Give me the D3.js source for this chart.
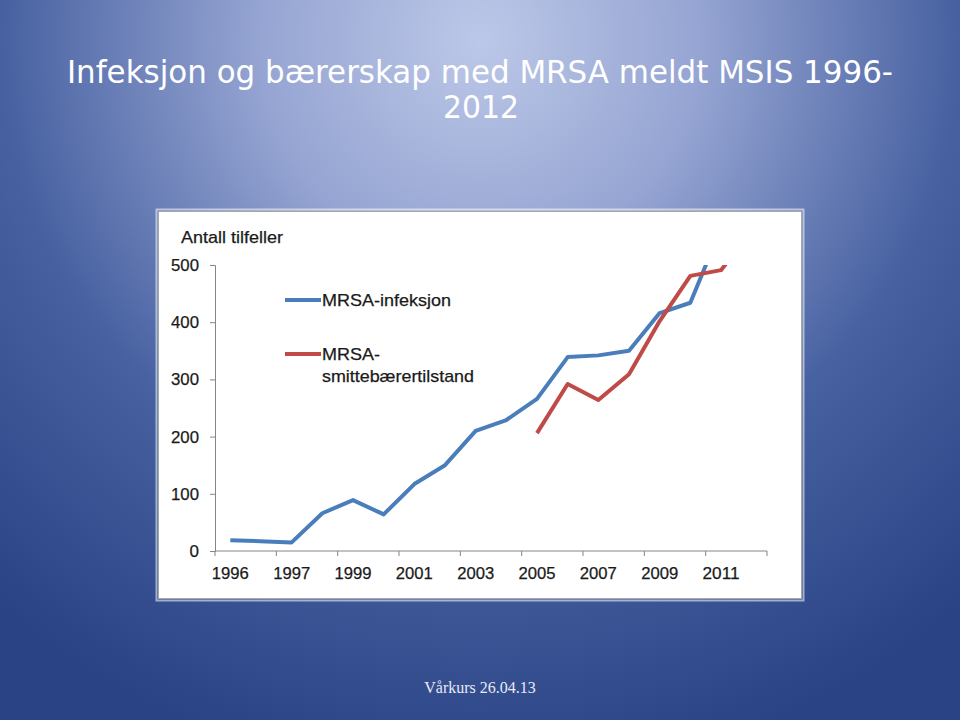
<!DOCTYPE html>
<html>
<head>
<meta charset="utf-8">
<script src="https://cdn.jsdelivr.net/npm/d3@7/dist/d3.min.js"></script>
<style>
html,body{margin:0;padding:0;width:960px;height:720px;overflow:hidden;}
svg{display:block;}
</style>
</head>
<body>
<svg id="c" width="960" height="720"></svg>
<script>
// ---- data ----
const categories = ["1996","(tom)","1997","1998","1999","2000","2001","2002","2003","2004","2005","2006","2007","2008","2009","2010","2011","2012"];
const tickLabelIdx = [0,2,4,6,8,10,12,14,16];
const infeksjon = [19,null,15,66,89,64,117,150,210,229,266,339,342,350,416,434,564,null];
const baerer = [null,null,null,null,null,null,null,null,null,null,206,292,264,309,402,481,491,560];
const yTicks = [0,100,200,300,400,500];
const seriesNames = ["MRSA-infeksjon","MRSA-smittebærertilstand"];
const seriesColors = ["#4a7ebb","#be4b48"];

(function(){
const svg = d3.select("#c");
const defs = svg.append("defs");
const rg = defs.append("radialGradient").attr("id","bg")
  .attr("gradientUnits","userSpaceOnUse").attr("cx",480).attr("cy",40).attr("r",740)
  .attr("fx",480).attr("fy",40);
rg.append("stop").attr("offset","0").attr("stop-color","#bcc8e8");
rg.append("stop").attr("offset","0.3").attr("stop-color","#95a4d2");
rg.append("stop").attr("offset","0.65").attr("stop-color","#4660a0");
rg.append("stop").attr("offset","1").attr("stop-color","#2a4384");
svg.append("rect").attr("width",960).attr("height",720).attr("fill","url(#bg)");

// title
const title = svg.append("g").attr("fill","#ffffff")
  .style("font-family","'DejaVu Sans', 'Noto Sans', sans-serif");
title.append("text").attr("x",67).attr("y",83).attr("font-size",32)
  .attr("textLength",826).attr("lengthAdjust","spacingAndGlyphs")
  .text("Infeksjon og bærerskap med MRSA meldt MSIS 1996-");
title.append("text").attr("x",481).attr("y",118).attr("font-size",32)
  .attr("text-anchor","middle").attr("textLength",76).attr("lengthAdjust","spacingAndGlyphs")
  .text("2012");

// footer
svg.append("text").attr("x",480).attr("y",693).attr("text-anchor","middle")
  .attr("fill","#e6ebf7").attr("font-size",16)
  .style("font-family","'Liberation Serif','DejaVu Serif',serif")
  .text("Vårkurs 26.04.13");

// chart box
svg.append("rect").attr("x",156.5).attr("y",209.5).attr("width",647).attr("height",391)
  .attr("fill","none").attr("stroke","rgba(255,255,255,0.55)").attr("stroke-width",2);
svg.append("rect").attr("x",158.5).attr("y",211.5).attr("width",643).attr("height",387)
  .attr("fill","#ffffff").attr("stroke","#a6a6a6").attr("stroke-width",1);

const pLeft = 215, pRight = 767, pTop = 265, pBottom = 551;
const x = d3.scaleBand().domain(categories).range([pLeft,pRight]).paddingInner(0).paddingOuter(0);
const xc = d => x(d) + x.bandwidth()/2;
const y = d3.scaleLinear().domain([0,500]).range([pBottom,pTop]);

const font = "'Liberation Sans', Arial, sans-serif";
const fs = 17;
const g = svg.append("g").style("font-family",font);
const heavy = sel => sel.attr("stroke","#1a1a1a").attr("stroke-width",0.25);

// y axis
const yAxis = g.append("g").attr("transform",`translate(${pLeft},0)`)
  .call(d3.axisLeft(y).tickValues(yTicks).tickSize(5).tickPadding(11).tickFormat(d3.format("d")));
yAxis.select(".domain").attr("stroke","#868686");
yAxis.selectAll(".tick line").attr("stroke","#868686");
yAxis.selectAll(".tick text").attr("fill","#1a1a1a").attr("font-size",fs)
  .style("font-family",font).attr("textLength",28).attr("lengthAdjust","spacingAndGlyphs").call(heavy);
yAxis.selectAll(".tick").filter(d=>d===0).select("text").attr("textLength",null);

// x axis
const xa = g.append("g").attr("transform",`translate(0,${pBottom})`);
xa.append("line").attr("x1",pLeft).attr("x2",pRight).attr("stroke","#868686");
const tickPos = tickLabelIdx.map(i => x(categories[i])).concat([pRight]);
xa.selectAll("line.t").data(tickPos).enter().append("line").attr("class","t")
  .attr("x1",d=>d).attr("x2",d=>d).attr("y1",0).attr("y2",5).attr("stroke","#868686");
xa.selectAll("text").data(tickLabelIdx).enter().append("text")
  .attr("x",i=>xc(categories[i])).attr("y",28).attr("text-anchor","middle")
  .attr("fill","#1a1a1a").attr("font-size",fs)
  .attr("textLength",37).attr("lengthAdjust","spacingAndGlyphs")
  .text(i=>categories[i]).call(heavy);

// y title
g.append("text").attr("x",181).attr("y",243).attr("font-size",fs).attr("fill","#1a1a1a")
  .attr("textLength",102).attr("lengthAdjust","spacingAndGlyphs")
  .text("Antall tilfeller").call(heavy);

// clip
defs.append("clipPath").attr("id","plot").append("rect")
  .attr("x",pLeft).attr("y",pTop).attr("width",pRight-pLeft).attr("height",pBottom-pTop+4);

const line = d3.line().x(d=>xc(d.c)).y(d=>y(d.v));
[infeksjon,baerer].forEach((vals,si)=>{
  const pts = categories.map((c,i)=>({c, v:vals[i]})).filter(d=>d.v!==null);
  g.append("path").datum(pts).attr("d",line).attr("fill","none")
    .attr("stroke",seriesColors[si]).attr("stroke-width",4)
    .attr("stroke-linejoin","round").attr("clip-path","url(#plot)");
});

// legend
const lg = g.append("g");
lg.append("line").attr("x1",285).attr("x2",321).attr("y1",300).attr("y2",300)
  .attr("stroke",seriesColors[0]).attr("stroke-width",4);
lg.append("text").attr("x",322).attr("y",306).attr("font-size",fs).attr("fill","#1a1a1a")
  .attr("textLength",129).attr("lengthAdjust","spacingAndGlyphs").text(seriesNames[0]).call(heavy);
lg.append("line").attr("x1",285).attr("x2",321).attr("y1",354).attr("y2",354)
  .attr("stroke",seriesColors[1]).attr("stroke-width",4);
lg.append("text").attr("x",322).attr("y",360).attr("font-size",fs).attr("fill","#1a1a1a")
  .attr("textLength",58).attr("lengthAdjust","spacingAndGlyphs").text("MRSA-").call(heavy);
lg.append("text").attr("x",322).attr("y",382).attr("font-size",fs).attr("fill","#1a1a1a")
  .attr("textLength",152).attr("lengthAdjust","spacingAndGlyphs").text("smittebærertilstand").call(heavy);
})();
</script>
</body>
</html>
